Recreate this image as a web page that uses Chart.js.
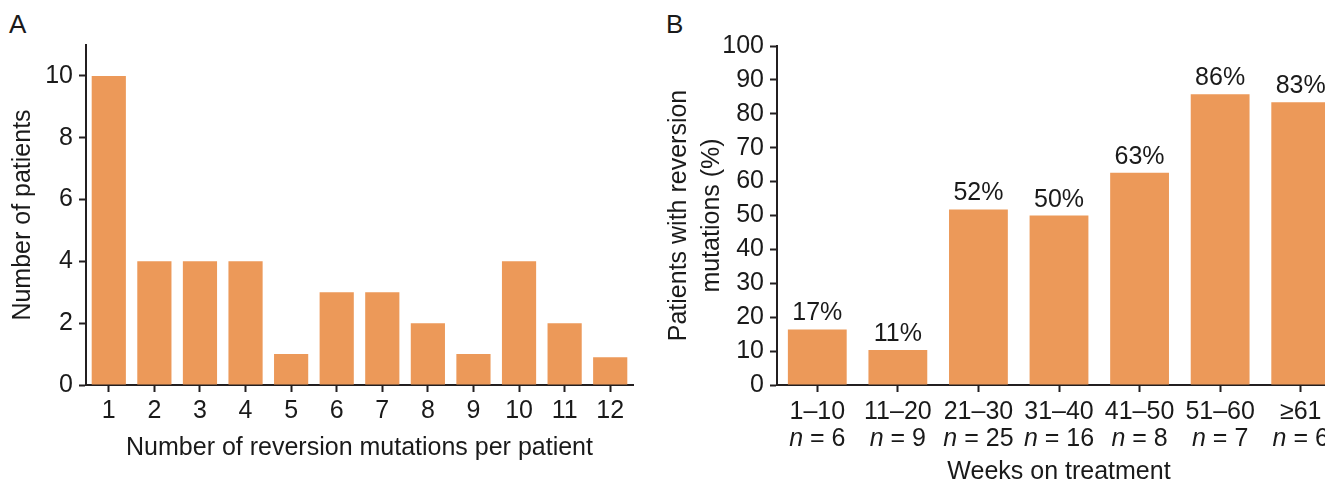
<!DOCTYPE html>
<html>
<head>
<meta charset="utf-8">
<script src="https://cdn.jsdelivr.net/npm/chart.js@4.4.1/dist/chart.umd.min.js"></script>
<style>
  body { margin: 0; width: 1325px; height: 479px; overflow: hidden; background: #fff; position: relative; }
  .panel { position: absolute; font-family: "Liberation Sans", Arial, sans-serif; font-size: 26px; line-height: 26px; color: #1a1a1a; }
  canvas { position: absolute; top: 0; }
</style>
</head>
<body>
<div class="panel" style="left:9px; top:11px;">A</div>
<div class="panel" style="left:666px; top:11px;">B</div>
<canvas id="chartA" width="650" height="479" style="left:0px;"></canvas>
<canvas id="chartB" width="700" height="479" style="left:660px;"></canvas>
<script>
// panel A data
var mutCounts = ['1', '2', '3', '4', '5', '6', '7', '8', '9', '10', '11', '12'];
var patientCounts = [10, 4, 4, 4, 1, 3, 3, 2, 1, 4, 2, 0.9];
var yTicksA = [0, 2, 4, 6, 8, 10];

// panel B data
var weekBins = ['1–10', '11–20', '21–30', '31–40', '41–50', '51–60', '≥61'];
var binN = ['6', '9', '25', '16', '8', '7', '6'];
var pctReversion = [16.4, 10.3, 51.8, 50, 62.6, 85.8, 83.4];
var pctLabels = ['17%', '11%', '52%', '50%', '63%', '86%', '83%'];
var yTicksB = [0, 10, 20, 30, 40, 50, 60, 70, 80, 90, 100];

var FONT = '"Liberation Sans", Arial, sans-serif';
var FS = 25;
var INK = '#1a1a1a';
var AXIS = '#231f20';
var ORANGE = '#EC9959';

Chart.defaults.font.family = FONT;
Chart.defaults.color = INK;

function axisGrid() {
    return { display: true, drawOnChartArea: false, drawTicks: true, tickLength: 7, tickWidth: 2, tickColor: AXIS, offset: false };
}

//**** Panel A
new Chart(document.getElementById('chartA'), {
    type: 'bar',
    data: {
        labels: mutCounts,
        datasets: [{ data: patientCounts, backgroundColor: ORANGE, barPercentage: 0.75, categoryPercentage: 1 }]
    },
    options: {
        responsive: false,
        animation: false,
        layout: { padding: { top: 45, right: 17, left: 0, bottom: 0 } },
        plugins: { legend: { display: false }, tooltip: { enabled: false } },
        scales: {
            x: {
                grid: axisGrid(),
                border: { display: true, color: AXIS, width: 2 },
                ticks: { font: { size: FS }, color: INK, padding: 4, maxRotation: 0 },
                title: { display: true, text: 'Number of reversion mutations per patient', font: { size: FS }, color: INK, padding: { bottom: 16 } },
                afterFit: function(s) { s.height = 94; }
            },
            y: {
                min: 0, max: 11,
                grid: axisGrid(),
                border: { display: true, color: AXIS, width: 2 },
                afterBuildTicks: function(s) { s.ticks = yTicksA.map(function(v) { return { value: v }; }); },
                ticks: { font: { size: FS }, color: INK, padding: 6 },
                title: { display: true, text: 'Number of patients', font: { size: FS }, color: INK, padding: { top: 8 } },
                afterFit: function(s) { s.width = 86; }
            }
        }
    }
});

//**** Panel B: labels over bars and two-line category labels
var panelBText = {
    id: 'panelBText',
    afterDraw: function(chart) {
        var ctx = chart.ctx;
        var meta = chart.getDatasetMeta(0);
        var xs = chart.scales.x;
        var plain = FS + 'px ' + FONT;
        var ital = 'italic ' + FS + 'px ' + FONT;
        ctx.save();
        ctx.fillStyle = INK;
        ctx.font = plain;
        ctx.textAlign = 'center';
        ctx.textBaseline = 'alphabetic';
        meta.data.forEach(function(bar, i) {
            ctx.fillText(pctLabels[i], bar.x, bar.y - 9);
        });
        weekBins.forEach(function(lab, i) {
            var cx = xs.getPixelForTick(i);
            ctx.textAlign = 'center';
            ctx.font = plain;
            ctx.fillText(lab, cx, 419);
            // second line: italic n
            ctx.font = ital;
            var wn = ctx.measureText('n').width;
            ctx.font = plain;
            var rest = ' = ' + binN[i];
            var wr = ctx.measureText(rest).width;
            var x0 = cx - (wn + wr) / 2;
            ctx.textAlign = 'left';
            ctx.font = ital;
            ctx.fillText('n', x0, 446);
            ctx.font = plain;
            ctx.fillText(rest, x0 + wn, 446);
        });
        ctx.textAlign = 'center';
        ctx.fillText('Weeks on treatment', (chart.chartArea.left + chart.chartArea.right) / 2, 479);
        ctx.restore();
    }
};

new Chart(document.getElementById('chartB'), {
    type: 'bar',
    data: {
        labels: weekBins,
        datasets: [{ data: pctReversion, backgroundColor: ORANGE, barPercentage: 0.73, categoryPercentage: 1 }]
    },
    options: {
        responsive: false,
        animation: false,
        layout: { padding: { top: 46, right: 19, left: 0, bottom: 0 } },
        plugins: { legend: { display: false }, tooltip: { enabled: false } },
        scales: {
            x: {
                grid: axisGrid(),
                border: { display: true, color: AXIS, width: 2 },
                ticks: { display: false },
                afterFit: function(s) { s.height = 94; }
            },
            y: {
                min: 0, max: 100,
                grid: axisGrid(),
                border: { display: true, color: AXIS, width: 2 },
                afterBuildTicks: function(s) { s.ticks = yTicksB.map(function(v) { return { value: v }; }); },
                ticks: { font: { size: FS }, color: INK, padding: 6 },
                title: { display: true, text: ['Patients with reversion', 'mutations (%)'], font: { size: FS, lineHeight: 1.34 }, color: INK, padding: { top: 2 } },
                afterFit: function(s) { s.width = 117; }
            }
        }
    },
    plugins: [panelBText]
});
</script>
</body>
</html>
